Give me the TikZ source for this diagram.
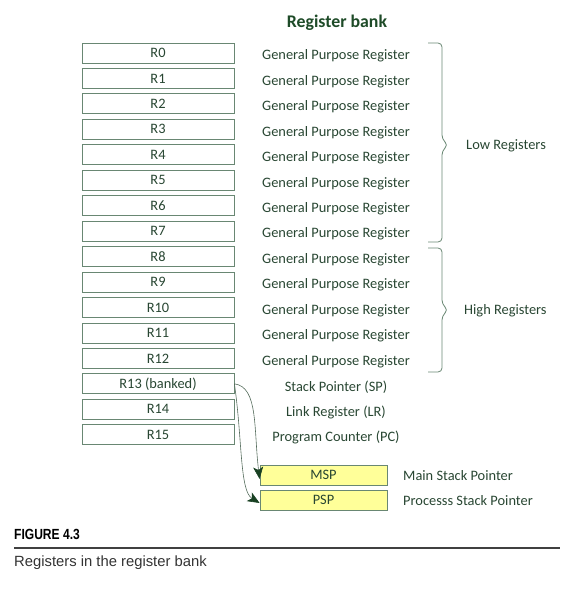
\documentclass[tikz,border=0pt]{standalone}
\usepackage{fontspec}
\setmainfont{Carlito}
\newfontfamily\capfont{Liberation Sans}
\newfontfamily\capboldfont{Liberation Sans}[FakeStretch=0.82]
\usepackage{tikz}
\usetikzlibrary{arrows.meta, positioning, calc}

\begin{document}
\begin{tikzpicture}[x=1pt, y=-1pt, font=\fontsize{14.4}{16}\selectfont]
    % Define local colors
    \definecolor{txt}{RGB}{40, 70, 50} \definecolor{ttl}{RGB}{30, 75, 40}
    \definecolor{bord}{RGB}{105, 135, 115} \definecolor{yel}{RGB}{255, 255, 153}
    \definecolor{arr}{RGB}{25, 65, 35}
    \tikzset{
        regbox/.style={draw=bord, thick, fill=white, minimum width=152pt, minimum height=20pt, inner sep=0pt, text=txt},
        spbox/.style={draw=bord, thick, fill=yel, minimum width=127pt, minimum height=20pt, inner sep=0pt, text=txt},
        desc/.style={text=txt, inner sep=0pt},
        braceline/.style={draw=bord, thick, rounded corners=4pt},
        bankarrow/.style={-{Stealth[length=12pt, width=10pt, inset=3pt, color=arr, fill=arr]}, draw=bord!80!black, semithick}
    }
    \useasboundingbox (0,0) rectangle (564,593);

    % Title
    \node[text=ttl, font=\fontsize{17.8}{20}\selectfont\bfseries] (title) at (337,23) {Register bank};

    % Register boxes and descriptions
    \foreach \i in {0,...,12} {
        \node[regbox] (r\i) at (158, {53+\i*25.45}) {R\i};
        \node[desc] (d\i) at (336, {56+\i*25.45}) {General Purpose Register};
    }
    \node[regbox] (r13) at (158, {53+13*25.45}) {R13 (banked)};
    \node[regbox] (r14) at (158, {53+14*25.45}) {R14};
    \node[regbox] (r15) at (158, {53+15*25.45}) {R15};
    \node[desc] (d13) at (336, {56+13*25.45}) {Stack Pointer (SP)};
    \node[desc] (d14) at (336, {56+14*25.45}) {Link Register (LR)};
    \node[desc] (d15) at (336, {56+15*25.45}) {Program Counter (PC)};

    % Banked stack pointers
    \node[spbox] (msp) at (323.5, 475) {MSP};
    \node[spbox] (psp) at (323.5, 500) {PSP};
    \node[desc, anchor=west] (mspd) at (403, 476) {Main Stack Pointer};
    \node[desc, anchor=west] (pspd) at (403, 501) {Processs Stack Pointer};

    % Braces
    \draw[braceline] (428,43) -- (442,43) -- (442,139) -- (448,145) -- (442,151) -- (442,242) -- (428,242);
    \draw[braceline] (428,248) -- (442,248) -- (442,304) -- (448,310) -- (442,316) -- (442,372) -- (428,372);
    \node[desc, anchor=west] (low) at (466,146) {Low Registers};
    \node[desc, anchor=west] (high) at (464,311) {High Registers};

    % Arrows from R13
    \draw[bankarrow] (r13.east) .. controls +(24,3) and +(-6,-50) .. ([yshift=-4pt]msp.west);
    \draw[bankarrow] (r13.east) .. controls +(8,55) and +(-20,-12) .. ([yshift=-3pt]psp.west);

    % Caption
    \node[anchor=west, inner sep=0pt, font=\capboldfont\fontsize{14.7}{16}\selectfont\bfseries] (fig) at (14,534) {FIGURE 4.3};
    \coordinate (rl) at (14,548);
    \coordinate (rr) at (560,548);
    \draw[line width=1.3pt, black!75] (rl) -- (rr);
    \node[anchor=west, inner sep=0pt, text=black!80, font=\capfont\fontsize{14.8}{16}\selectfont] (cap) at (14,563) {Registers in the register bank};
\end{tikzpicture}
\end{document}
